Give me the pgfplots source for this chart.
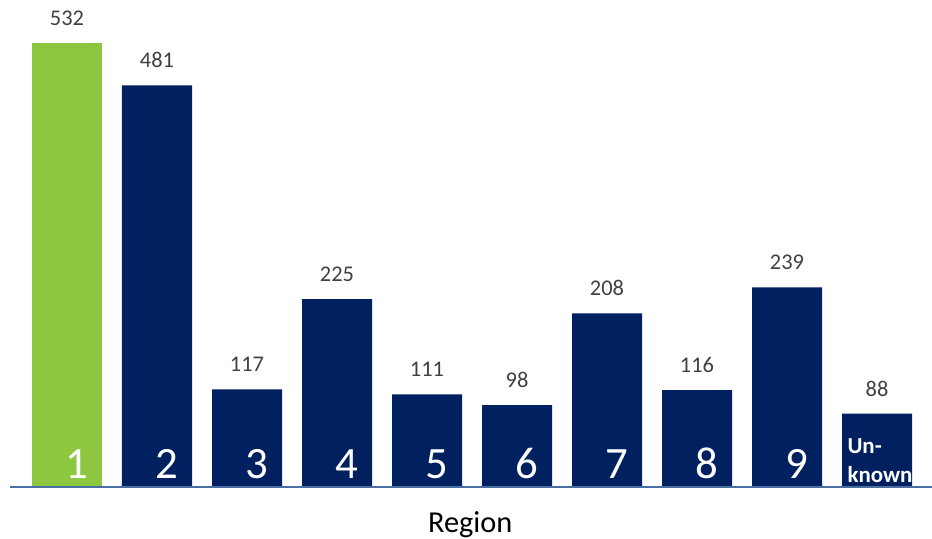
\documentclass[border=0pt]{standalone}
\usepackage{pgfplots}
\pgfplotsset{compat=1.18}
\usepackage{fontspec}
\setmainfont{Carlito}
\definecolor{barnavy}{HTML}{002060}
\definecolor{bargreen}{HTML}{8DC63F}
\definecolor{valgray}{HTML}{404040}
\definecolor{baseblue}{HTML}{4A6FA5}
\tikzset{innum/.style={anchor=base, text=white, inner sep=0pt, font=\fontsize{45}{45}\selectfont, yshift=9bp}}
\begin{document}
\begin{tikzpicture}
\begin{axis}[
  at={(10bp,52bp)}, anchor=south west,
  scale only axis, width=922bp, height=487bp,
  xmin=-0.6333, xmax=9.6111, ymin=0, ymax=583.2,
  axis lines=none, xtick=\empty, ytick=\empty,
  clip=false,
  ybar, bar width=70bp, bar shift=0pt,
  nodes near coords,
  /pgf/number format/assume math mode=true,
  every node near coord/.style={anchor=base, yshift=17.5bp, inner sep=0pt, font=\fontsize{22.5}{26}\selectfont, text=valgray},
]
\addplot[fill=bargreen, draw=none] coordinates {(0,532)};
\addplot[fill=barnavy, draw=none] coordinates {(1,481) (2,117) (3,225) (4,111) (5,98) (6,208) (7,116) (8,239) (9,88)};
\draw[baseblue, line width=2bp] (axis cs:-0.6333,0) -- (axis cs:9.6111,0);
\node[innum] at (axis cs:0.11,0) {1};
\node[innum] at (axis cs:1.11,0) {2};
\node[innum] at (axis cs:2.11,0) {3};
\node[innum] at (axis cs:3.11,0) {4};
\node[innum] at (axis cs:4.11,0) {5};
\node[innum] at (axis cs:5.11,0) {6};
\node[innum] at (axis cs:6.11,0) {7};
\node[innum] at (axis cs:7.11,0) {8};
\node[innum] at (axis cs:8.11,0) {9};
\node[anchor=base west, text=white, inner sep=0pt, font=\fontsize{23}{29}\selectfont\bfseries, align=left, yshift=5bp] at (axis cs:8.67,0) {Un-\\known};
\node[anchor=base, inner sep=0pt, font=\fontsize{30.5}{30}\selectfont, text=black, yshift=-45bp] at (axis cs:4.48,0) {Region};
\end{axis}
\pgfresetboundingbox
\useasboundingbox (0,0) rectangle (932bp,539bp);
\end{tikzpicture}
\end{document}
